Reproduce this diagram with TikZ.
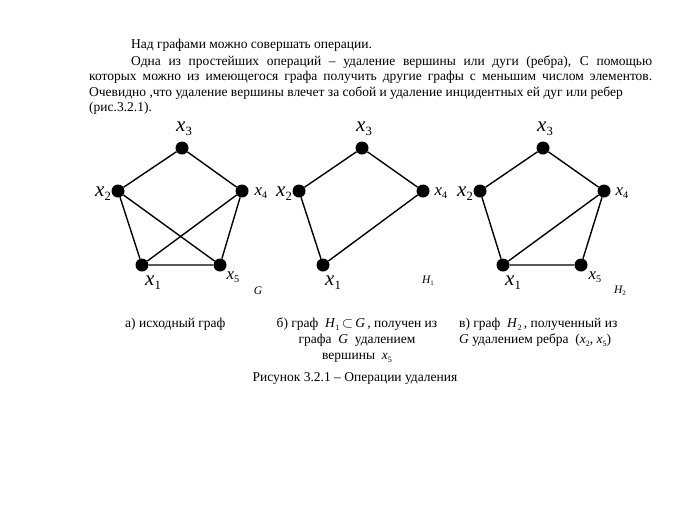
\documentclass[tikz,border=0pt]{standalone}
\usepackage{fontspec}
\setmainfont{Liberation Serif}
\newcommand\vx[1]{\textit{x}\raisebox{-0.45ex}{\scalebox{0.6}{#1}}}
\newcommand\sbs[1]{\raisebox{-0.4ex}{\scalebox{0.6}{\upshape #1}}}
\tikzset{
  vertex/.style={circle,fill,inner sep=0pt,minimum size=13pt},
  edge/.style={line width=1.4pt},
  txt/.style={anchor=base west,inner sep=0pt,font=\fontsize{13.5}{16}\selectfont},
  biglbl/.style={font=\fontsize{21}{21}\selectfont,inner sep=0pt},
  smalllbl/.style={font=\fontsize{17}{17}\selectfont,inner sep=0pt},
  glbl/.style={font=\fontsize{11.5}{11.5}\selectfont\itshape,inner sep=0pt}
}
\begin{document}
\begin{tikzpicture}[x=1pt,y=-1pt]
\useasboundingbox (0,0) rectangle (690,507);

\node[txt] (l1) at (131,48) {Над графами можно совершать операции.};
\node[txt] (l2) at (131,65) {\makebox[521pt][s]{Одна из простейших операций – удаление вершины или дуги (ребра), С помощью}};
\node[txt] (l3) at (89,80) {\makebox[563pt][s]{которых можно из имеющегося графа получить другие графы с меньшим числом элементов.}};
\node[txt] (l4) at (89,96) {Очевидно ,что удаление вершины влечет за собой и удаление инцидентных ей дуг или ребер};
\node[txt] (l5) at (89,111) {(рис.3.2.1).};

% graph G
\node[vertex] (g1) at (142,265) {};
\node[vertex] (g2) at (118,191) {};
\node[vertex] (g3) at (182,148) {};
\node[vertex] (g4) at (242,191) {};
\node[vertex] (g5) at (220,265) {};
\draw[edge] (g2) -- (g3) -- (g4) -- (g5) -- (g1) -- (g2);
\draw[edge] (g2) -- (g5);
\draw[edge] (g4) -- (g1);
\node[biglbl] at (184,129) {\vx{3}};
\node[biglbl] at (103,194) {\vx{2}};
\node[smalllbl] at (261,193) {\vx{4}};
\node[biglbl] at (153,283) {\vx{1}};
\node[smalllbl] at (233,277) {\vx{5}};
\node[glbl] at (258,291) {G};

% graph H1
\node[vertex] (h1) at (323,265) {};
\node[vertex] (h2) at (299,191) {};
\node[vertex] (h3) at (362,148) {};
\node[vertex] (h4) at (423,191) {};
\draw[edge] (h2) -- (h3) -- (h4) -- (h1) -- (h2);
\node[biglbl] at (364,129) {\vx{3}};
\node[biglbl] at (284,194) {\vx{2}};
\node[smalllbl] at (441,193) {\vx{4}};
\node[biglbl] at (333,283) {\vx{1}};
\node[glbl] at (428,281) {H\sbs{1}};

% graph H2
\node[vertex] (k1) at (503,265) {};
\node[vertex] (k2) at (480,191) {};
\node[vertex] (k3) at (543,148) {};
\node[vertex] (k4) at (604,191) {};
\node[vertex] (k5) at (581,265) {};
\draw[edge] (k2) -- (k3) -- (k4) -- (k5) -- (k1) -- (k2);
\draw[edge] (k1) -- (k4);
\node[biglbl] at (545,129) {\vx{3}};
\node[biglbl] at (465,194) {\vx{2}};
\node[smalllbl] at (622,193) {\vx{4}};
\node[biglbl] at (513,283) {\vx{1}};
\node[smalllbl] at (595,277) {\vx{5}};
\node[glbl] at (620,291) {H\sbs{2}};

% captions
\node[txt] (ca) at (125,327) {а) исходный граф};
\node[txt,anchor=north,align=center] (cb) at (357,318)
  {б) граф\ \ \textit{H}\sbs{1}\,$\subset$\,\textit{G}\,, получен из\\
   графа \ \textit{G}\ \ удалением\\
   вершины \ \textit{x}\sbs{5}};
\node[txt,anchor=north west,align=left] (cc) at (459,318)
  {в) граф \ \textit{H}\sbs{2}\,, полученный из\\
   \textit{G} удалением ребра \ (\textit{x}\sbs{2}, \textit{x}\sbs{5})};
\node[txt,anchor=base] (cap) at (355,381) {Рисунок 3.2.1 – Операции удаления};
\end{tikzpicture}
\end{document}
